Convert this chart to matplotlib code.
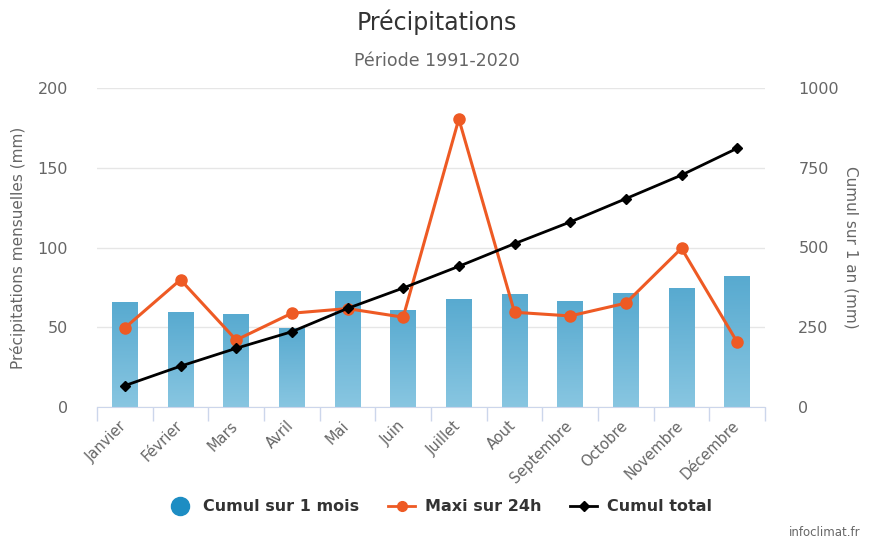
import numpy as np
import matplotlib
matplotlib.use("Agg")
import matplotlib.pyplot as plt
import matplotlib.transforms as mtrans
from matplotlib.lines import Line2D

# monthly values
mois = ['Janvier', 'Février', 'Mars', 'Avril', 'Mai', 'Juin', 'Juillet',
        'Aout', 'Septembre', 'Octobre', 'Novembre', 'Décembre']
cumul_mois = [65.7, 59.4, 58.2, 49.8, 73.0, 60.9, 67.8, 71.0, 66.4, 71.4, 74.6, 81.9]
maxi_24h = [49.6, 79.8, 42.0, 58.8, 61.7, 56.3, 180.6, 59.4, 57.1, 65.1, 99.5, 40.7]
cumul_total = [67, 128, 184, 236, 309, 373, 441, 512, 580, 653, 727, 811]

grid_c = '#e6e6e6'
axis_c = '#ccd6eb'
txt_c = '#666666'
orange = '#ee5a24'

plt.rcParams['font.family'] = ['DejaVu Sans']

fig = plt.figure(figsize=(8.73, 5.43), dpi=100)
ax = fig.add_axes([97/873, 1 - 407/543, (765-97)/873, (407-88)/543])
x = np.arange(len(mois))

bars = ax.bar(x, cumul_mois, width=0.46, color='#6fb8da', zorder=2)
# vertical gradient on each bar (darker at the top)
grad = np.linspace(0, 1, 100).reshape(-1, 1)
cmap = matplotlib.colors.LinearSegmentedColormap.from_list('g', ['#88c6e1', '#58aad0'])
for b in bars:
    x0, y0 = b.get_x(), b.get_y()
    im = ax.imshow(grad, cmap=cmap, aspect='auto', origin='lower',
                   extent=[x0, x0 + b.get_width(), y0, y0 + b.get_height()], zorder=2.1)
    im.set_clip_path(b)

ax.plot(x, maxi_24h, color=orange, lw=2.2, marker='o', ms=8, zorder=3)

ax.set_xlim(-0.5, 11.5)
ax.set_ylim(0, 200)
ax.set_yticks([0, 50, 100, 150, 200])
ax.grid(axis='y', color=grid_c, lw=1, zorder=0)
ax.set_axisbelow(True)
for s in ['top', 'left', 'right']:
    ax.spines[s].set_visible(False)
ax.spines['bottom'].set_color(axis_c)
ax.tick_params(axis='y', length=0, colors=txt_c, labelsize=11.5, pad=21)
ax.set_xticks(x)
ax.set_xticklabels(mois, rotation=45, ha='right', rotation_mode='anchor',
                   color=txt_c, fontsize=10.5)
ax.tick_params(axis='x', length=0, pad=8)
# nudge month labels a little to the left, like the original
shift = mtrans.ScaledTranslation(-6/100, 0, fig.dpi_scale_trans)
for lab in ax.get_xticklabels():
    lab.set_transform(lab.get_transform() + shift)
ax.set_xticks(np.arange(-0.5, 12, 1), minor=True)
ax.tick_params(axis='x', which='minor', length=10, color=axis_c, width=1)
ax.set_ylabel('Précipitations mensuelles (mm)', color=txt_c, fontsize=11, labelpad=8)

ax2 = ax.twinx()
ax2.plot(x, cumul_total, color='black', lw=2, marker='D', ms=5, zorder=4)
ax2.set_ylim(0, 1000)
ax2.set_yticks([0, 250, 500, 750, 1000])
for s in ax2.spines.values():
    s.set_visible(False)
ax2.tick_params(axis='y', length=0, colors=txt_c, labelsize=11.5, pad=24)
ax2.set_ylabel('Cumul sur 1 an (mm)', color=txt_c, fontsize=11, rotation=270, labelpad=14)

fig.text(0.5, 1 - 22/543, 'Précipitations', ha='center', va='center',
         fontsize=17, color='#333333')
fig.text(0.5, 1 - 61/543, 'Période 1991-2020', ha='center', va='center',
         fontsize=12.5, color=txt_c)

handles = [
    Line2D([], [], ls='none', marker='o', ms=13, color='#1d8dc3'),
    Line2D([], [], color=orange, lw=2, marker='o', ms=7),
    Line2D([], [], color='black', lw=2, marker='D', ms=5),
]
fig.legend(handles, ['Cumul sur 1 mois', 'Maxi sur 24h', 'Cumul total'],
           loc='center', bbox_to_anchor=(0.503, 1 - 507/543), ncol=3, frameon=False,
           prop={'weight': 'bold', 'size': 11.5}, labelcolor='#333333',
           handlelength=1.7, columnspacing=1.8, handletextpad=0.6)

fig.text(1 - 13/873, 1 - 533/543, 'infoclimat.fr', ha='right', va='center',
         fontsize=8.5, color=txt_c)

fig.savefig('out.png', dpi=100)
